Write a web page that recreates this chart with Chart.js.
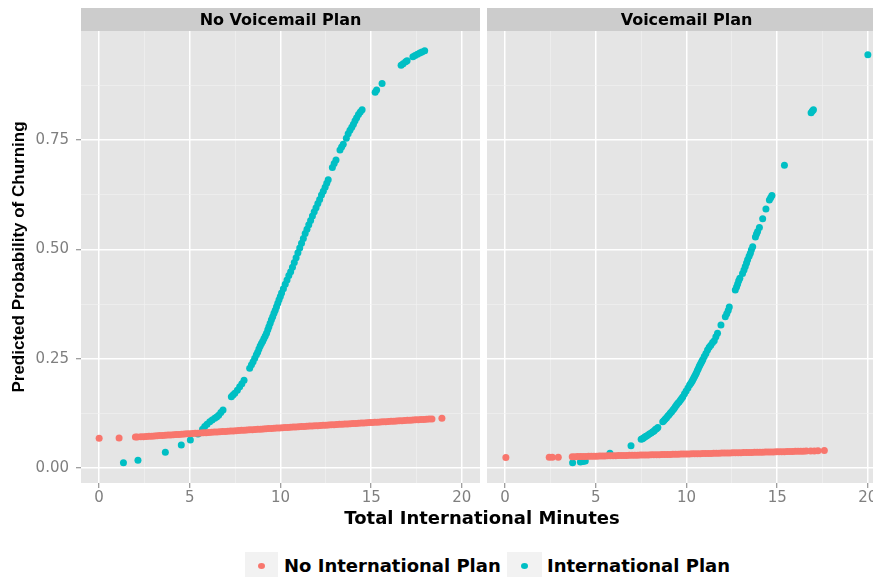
<!DOCTYPE html>
<html>
<head>
<meta charset="utf-8">
<script src="https://cdn.jsdelivr.net/npm/chart.js@4.4.1/dist/chart.umd.min.js"></script>
<style>
body { margin:0; background:#fff; }
#wrap { position:relative; width:873px; height:577px; overflow:hidden; background:#fff; font-family:"DejaVu Sans", sans-serif; }
#c_left { position:absolute; left:0; top:0; }
#c_right { position:absolute; left:487px; top:0; }
.x_title { position:absolute; left:0; width:964px; top:507px; text-align:center; font-weight:bold; font-size:18px; color:#000; }
.key { position:absolute; top:552px; height:30px; background:#F2F2F2; }
.key span { position:absolute; left:50%; top:14px; width:7px; height:6px; margin-left:-3.5px; margin-top:-3px; border-radius:50%; }
.lab { position:absolute; top:555px; font-weight:bold; font-size:18px; color:#000; white-space:nowrap; }
</style>
</head>
<body>
<div id="wrap">
	<canvas id="c_left" width="481" height="510"></canvas>
	<canvas id="c_right" width="399" height="510"></canvas>
	<div class="x_title" id="x_title"></div>
	<div class="key" style="left:245px; width:33px;"><span style="background:#F8766D"></span></div>
	<div class="lab" id="lab_0" style="left:284px;"></div>
	<div class="key" style="left:507px; width:35px;"><span style="background:#00BFC4"></span></div>
	<div class="lab" id="lab_1" style="left:547px;"></div>
</div>
<script>
// ---------------- 데이터 ----------------
const panels = ['No Voicemail Plan', 'Voicemail Plan'];
const series = ['No International Plan', 'International Plan'];
const x_title = 'Total International Minutes';
const y_title = 'Predicted Probability of Churning';
const x_ticks = [0, 5, 10, 15, 20];
const y_ticks = [0, 0.25, 0.5, 0.75];

// [분, 확률] - No Voicemail Plan / No International Plan
const nvm_noint = [[0,.068],[1.1,.069],[2.0,.071],[2.1,.0712],[2.3,.0715],[2.45,.0719],[2.6,.0723],[2.75,.0727],[2.9,.0731],[3.05,.0735],[3.2,.0739],[3.35,.0743],[3.5,.0747],[3.65,.0751],[3.8,.0755],[3.95,.0759],[4.1,.0763],[4.25,.0767],[4.4,.0771],[4.55,.0775],[4.7,.0779],[4.85,.0783],[5.0,.0787],[5.15,.0791],[5.3,.0795],[5.45,.0799],[5.6,.0803],[5.75,.0807],[5.9,.0811],[6.05,.0815],[6.2,.0819],[6.35,.0823],[6.5,.0827],[6.65,.0831],[6.8,.0835],[6.95,.0839],[7.1,.0843],[7.25,.0847],[7.4,.0851],[7.55,.0855],[7.7,.0859],[7.85,.0863],[8.0,.0867],[8.15,.0871],[8.3,.0875],[8.45,.0879],[8.6,.0883],[8.75,.0887],[8.9,.0891],[9.05,.0895],[9.2,.0899],[9.35,.0903],[9.5,.0907],[9.65,.0911],[9.8,.0915],[9.95,.0919],[10.1,.0923],[10.25,.0927],[10.4,.0930],[10.55,.0934],[10.7,.0938],[10.85,.0941],[11.0,.0945],[11.15,.0949],[11.3,.0952],[11.45,.0956],[11.6,.0960],[11.75,.0963],[11.9,.0967],[12.05,.0971],[12.2,.0974],[12.35,.0978],[12.5,.0982],[12.65,.0985],[12.8,.0989],[12.95,.0993],[13.1,.0996],[13.25,.1000],[13.4,.1004],[13.55,.1007],[13.7,.1011],[13.85,.1015],[14.0,.1018],[14.15,.1022],[14.3,.1026],[14.45,.1029],[14.6,.1033],[14.75,.1037],[14.9,.1040],[15.05,.1044],[15.2,.1048],[15.35,.1051],[15.5,.1055],[15.65,.1059],[15.8,.1062],[15.95,.1066],[16.1,.1070],[16.25,.1073],[16.4,.1077],[16.55,.1081],[16.7,.1084],[16.85,.1088],[17.0,.1092],[17.15,.1095],[17.3,.1099],[17.45,.1103],[17.6,.1106],[17.75,.1110],[17.9,.1114],[18.05,.1117],[18.2,.1121],[18.35,.1125],[18.9,.114]];

// No Voicemail Plan / International Plan
const nvm_int = [[1.34,.012],[2.14,.018],[3.65,.036],[4.53,.053],[5.03,.064],[5.45,.078],[5.7,.089],[5.82,.095],[5.95,.100],[6.1,.106],[6.23,.110],[6.37,.114],[6.48,.117],[6.59,.121],[6.71,.127],[6.83,.133],[7.29,.163],[7.38,.167],[7.48,.171],[7.62,.178],[7.75,.186],[7.87,.193],[7.99,.201],[8.3,.228],[8.4,.236],[8.49,.243],[8.58,.251],[8.67,.259],[8.74,.265],[8.81,.272],[8.88,.279],[8.95,.285],[9.02,.290],[9.09,.296],[9.16,.302],[9.23,.308],[9.3,.316],[9.36,.323],[9.43,.331],[9.5,.339],[9.57,.346],[9.64,.354],[9.71,.361],[9.78,.369],[9.85,.377],[9.92,.385],[9.99,.392],[10.06,.400],[10.16,.410],[10.26,.420],[10.36,.430],[10.46,.440],[10.56,.449],[10.66,.459],[10.76,.470],[10.86,.481],[10.96,.492],[11.06,.503],[11.16,.514],[11.26,.525],[11.36,.536],[11.46,.546],[11.56,.556],[11.66,.566],[11.76,.576],[11.86,.586],[11.96,.595],[12.06,.605],[12.16,.614],[12.26,.624],[12.36,.633],[12.46,.642],[12.55,.651],[12.63,.659],[12.86,.687],[12.96,.696],[13.06,.704],[13.28,.727],[13.37,.734],[13.46,.740],[13.63,.754],[13.73,.764],[13.83,.772],[13.93,.779],[14.02,.786],[14.11,.794],[14.2,.801],[14.3,.808],[14.4,.814],[14.5,.819],[15.22,.859],[15.3,.864],[15.6,.879],[16.65,.921],[16.76,.924],[16.9,.929],[16.98,.931],[17.3,.940],[17.42,.943],[17.55,.946],[17.68,.949],[17.8,.951],[17.95,.954]];

// Voicemail Plan / No International Plan
const vm_noint = [[0.04,.024],[2.43,.025],[2.6,.025],[2.93,.025],[3.7,.0260],[3.85,.0262],[4.0,.0263],[4.15,.0265],[4.3,.0266],[4.45,.0268],[4.6,.0269],[4.75,.0271],[4.9,.0272],[5.05,.0274],[5.2,.0275],[5.35,.0277],[5.5,.0278],[5.65,.0280],[5.8,.0281],[5.95,.0283],[6.1,.0284],[6.25,.0286],[6.4,.0287],[6.55,.0289],[6.7,.0290],[6.85,.0292],[7.0,.0293],[7.15,.0295],[7.3,.0296],[7.45,.0298],[7.6,.0299],[7.75,.0301],[7.9,.0302],[8.05,.0304],[8.2,.0305],[8.35,.0307],[8.5,.0308],[8.65,.0310],[8.8,.0311],[8.95,.0313],[9.1,.0314],[9.25,.0316],[9.4,.0317],[9.55,.0319],[9.7,.0320],[9.85,.0322],[10.0,.0323],[10.15,.0325],[10.3,.0326],[10.45,.0328],[10.6,.0329],[10.75,.0331],[10.9,.0332],[11.05,.0334],[11.2,.0335],[11.35,.0337],[11.5,.0338],[11.65,.0340],[11.8,.0341],[11.95,.0343],[12.1,.0344],[12.25,.0346],[12.4,.0347],[12.55,.0349],[12.7,.0350],[12.85,.0352],[13.0,.0353],[13.15,.0355],[13.3,.0356],[13.45,.0358],[13.6,.0359],[13.75,.0361],[13.9,.0362],[14.05,.0364],[14.2,.0365],[14.35,.0367],[14.5,.0368],[14.65,.0370],[14.8,.0371],[14.95,.0373],[15.1,.0374],[15.25,.0376],[15.4,.0377],[15.55,.0379],[15.7,.0380],[15.85,.0382],[16.0,.0383],[16.15,.0385],[16.3,.0386],[16.45,.0388],[16.6,.0389],[16.85,.0392],[17.05,.0394],[17.25,.0396],[17.6,.0400]];

// Voicemail Plan / International Plan
const vm_int = [[3.72,.012],[4.15,.014],[4.3,.015],[4.42,.016],[5.78,.034],[6.94,.051],[7.5,.066],[7.57,.067],[7.63,.069],[7.7,.071],[7.77,.073],[7.86,.075],[7.95,.078],[8.05,.080],[8.14,.083],[8.21,.085],[8.28,.088],[8.35,.090],[8.42,.093],[8.69,.106],[8.76,.109],[8.83,.112],[8.9,.115],[8.97,.119],[9.04,.122],[9.11,.126],[9.18,.129],[9.25,.133],[9.32,.136],[9.38,.140],[9.45,.144],[9.52,.148],[9.59,.151],[9.66,.155],[9.73,.159],[9.8,.163],[9.89,.170],[9.98,.176],[10.08,.183],[10.17,.190],[10.24,.194],[10.3,.198],[10.35,.202],[10.4,.206],[10.45,.210],[10.5,.214],[10.55,.218],[10.6,.223],[10.65,.227],[10.7,.232],[10.75,.236],[10.8,.240],[10.85,.244],[10.9,.248],[10.98,.255],[11.07,.262],[11.16,.270],[11.25,.276],[11.34,.281],[11.44,.287],[11.53,.291],[11.62,.300],[11.71,.308],[11.9,.327],[12.14,.346],[12.22,.353],[12.3,.360],[12.36,.368],[12.69,.407],[12.76,.414],[12.82,.421],[12.88,.428],[12.94,.434],[13.09,.445],[13.17,.453],[13.24,.461],[13.31,.469],[13.37,.476],[13.45,.484],[13.52,.491],[13.58,.499],[13.65,.506],[13.8,.528],[13.86,.535],[13.92,.541],[14.02,.550],[14.2,.570],[14.38,.592],[14.57,.613],[14.64,.618],[14.71,.623],[15.4,.692],[16.87,.812],[16.94,.816],[17.0,.819],[20.0,.945]];

const red = '#F8766D';
const teal = '#00BFC4';
const tick_grey = '#7F7F7F';

document.getElementById('x_title').textContent = x_title;
document.getElementById('lab_0').textContent = series[0];
document.getElementById('lab_1').textContent = series[1];

// 보조 눈금 (major 사이 중간값)
function with_minor(major) {
	const out = [];
	const step = major[1] - major[0];
	for (let i = 0; i < major.length; i++) {
		out.push(major[i]);
		out.push(major[i] + step / 2);
	}
	return out;
}
function is_major(list, v) {
	return list.some(m => Math.abs(m - v) < 1e-9);
}
function to_points(pairs) {
	return pairs.map(p => ({x: p[0], y: p[1]}));
}

// 패널 배경 + 스트립
const panel_bg = {
	id: 'panel_bg',
	beforeDraw(chart, args, opts) {
		const ctx = chart.ctx;
		const a = chart.chartArea;
		ctx.save();
		ctx.fillStyle = '#E5E5E5';
		ctx.fillRect(a.left, a.top, a.right - a.left, a.bottom - a.top);
		ctx.fillStyle = '#CCCCCC';
		ctx.fillRect(a.left, 8, a.right - a.left, a.top - 8);
		ctx.fillStyle = '#000';
		ctx.font = 'bold 16px "DejaVu Sans"';
		ctx.textAlign = 'center';
		ctx.textBaseline = 'middle';
		ctx.fillText(opts.text, (a.left + a.right) / 2, (8 + a.top) / 2 + 1);
		ctx.restore();
	}
};

function draw_panel(id, title, no_int, yes_int, show_y) {
	const ctx = document.getElementById(id).getContext('2d');
	return new Chart(ctx, {
		type: 'scatter',
		data: {
			datasets: [{
				label: series[0],
				data: to_points(no_int),
				backgroundColor: red,
				borderWidth: 0,
				pointRadius: 3.5
			}, {
				label: series[1],
				data: to_points(yes_int),
				backgroundColor: teal,
				borderWidth: 0,
				pointRadius: 3.5
			}]
		},
		options: {
			responsive: false,
			animation: false,
			layout: { autoPadding: false, padding: { top: 31, right: show_y ? 1 : 0, bottom: 0, left: 0 } },
			plugins: {
				legend: { display: false },
				tooltip: { enabled: false },
				panel_bg: { text: title }
			},
			scales: {
				x: {
					type: 'linear',
					min: -1,
					max: 21,
					afterBuildTicks: function(scale) {
						scale.ticks = with_minor(x_ticks).filter(v => v <= 20).map(v => ({value: v}));
					},
					afterFit: function(scale) { scale.height = 27; },
					border: { display: false },
					grid: {
						tickLength: 5,
						color: c => is_major(x_ticks, c.tick.value) ? '#FFFFFF' : '#F2F2F2',
						lineWidth: c => is_major(x_ticks, c.tick.value) ? 1.5 : 0.6,
						tickColor: c => is_major(x_ticks, c.tick.value) ? tick_grey : 'rgba(0,0,0,0)',
						tickWidth: 1
					},
					ticks: {
						autoSkip: false,
						maxRotation: 0,
						padding: 1,
						color: tick_grey,
						font: { family: 'DejaVu Sans', size: 15 },
						callback: v => is_major(x_ticks, v) ? String(v) : ''
					}
				},
				y: {
					type: 'linear',
					min: -0.034,
					max: 0.999,
					afterBuildTicks: function(scale) {
						scale.ticks = with_minor(y_ticks).map(v => ({value: v}));
					},
					afterFit: function(scale) { scale.width = show_y ? 81 : 0; },
					border: { display: false },
					title: {
						display: show_y,
						text: y_title,
						color: '#000',
						font: { family: 'Liberation Sans', size: 17, weight: 'bold' },
						padding: { top: 9, bottom: 0 }
					},
					grid: {
						drawTicks: show_y,
						tickLength: 5,
						color: c => is_major(y_ticks, c.tick.value) ? '#FFFFFF' : '#F2F2F2',
						lineWidth: c => is_major(y_ticks, c.tick.value) ? 1.5 : 0.6,
						tickColor: c => is_major(y_ticks, c.tick.value) ? tick_grey : 'rgba(0,0,0,0)',
						tickWidth: 1
					},
					ticks: {
						display: show_y,
						autoSkip: false,
						padding: 7,
						color: tick_grey,
						font: { family: 'DejaVu Sans', size: 15 },
						callback: v => is_major(y_ticks, v) ? v.toFixed(2) : ''
					}
				}
			}
		},
		plugins: [panel_bg]
	});
}

draw_panel('c_left', panels[0], nvm_noint, nvm_int, true);
draw_panel('c_right', panels[1], vm_noint, vm_int, false);
</script>
</body>
</html>
